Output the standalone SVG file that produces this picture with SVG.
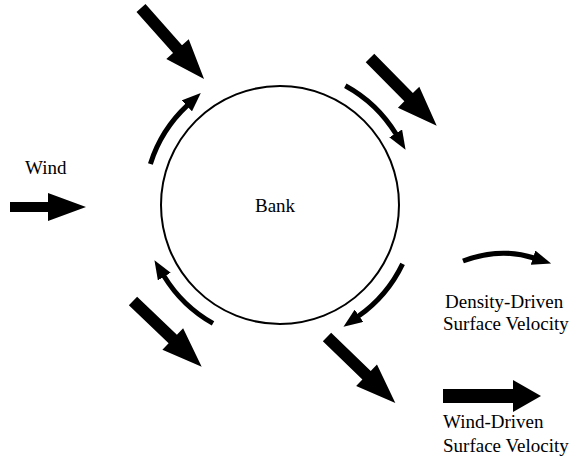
<svg xmlns="http://www.w3.org/2000/svg" width="578" height="458" viewBox="0 0 578 458">
<style>
  .lbl { font-family: "Liberation Serif", "Times New Roman", serif; font-size: 19px; fill: #000; }
  .bank { fill: none; stroke: #000; stroke-width: 2; }
  .dens { fill: none; stroke: #000; stroke-width: 5; stroke-linecap: butt; marker-end: url(#dhead); }
  .wind { fill: #000; stroke: none; }
</style>
<defs>
  <marker id="dhead" markerUnits="userSpaceOnUse" markerWidth="19" markerHeight="15" viewBox="0 0 19 15" refX="1" refY="7.5" orient="auto">
    <path d="M0,0 L19,7.5 L0,15 z" fill="#000"/>
  </marker>
  <path id="warrow" d="M0,-6 L55,-6 L55,-15 L95,0 L55,15 L55,6 L0,6 z"/>
</defs>
<rect width="578" height="458" fill="#fff"/>
<g id="bank">
  <circle class="bank" cx="280" cy="205" r="119"/>
  <text class="lbl" x="255" y="212">Bank</text>
</g>
<g id="wind-label">
  <text class="lbl" x="25" y="174">Wind</text>
</g>
<g id="legend-density">
  <text class="lbl" x="445" y="308">Density-Driven</text>
  <text class="lbl" x="443" y="330">Surface Velocity</text>
</g>
<g id="legend-wind">
  <text class="lbl" x="443" y="428">Wind-Driven</text>
  <text class="lbl" x="443" y="452">Surface Velocity</text>
</g>
<g id="connectors">
  <!-- wind input arrow -->
  <path class="wind" d="M10,202 L48,202 L48,193 L86,207 L48,221 L48,212 L10,212 z"/>
  <!-- wind-driven surface velocity arrows -->
  <use href="#warrow" class="wind" transform="translate(141,8) rotate(48.4)"/>
  <use href="#warrow" class="wind" transform="translate(370,58) rotate(45.4)"/>
  <use href="#warrow" class="wind" transform="translate(133,301) rotate(43.7)"/>
  <use href="#warrow" class="wind" transform="translate(327,337) rotate(44)"/>
  <!-- density-driven surface velocity arcs -->
  <path class="dens" d="M150.4,163.9 A136,136 0 0 1 187.6,105.2"/>
  <path class="dens" d="M345.3,85.7 A136,136 0 0 1 396.2,134.3"/>
  <path class="dens" d="M402.6,263.8 A136,136 0 0 1 358.2,316.3"/>
  <path class="dens" d="M213.0,323.4 A136,136 0 0 1 163.8,275.7"/>
  <!-- legend arrows -->
  <path class="dens" d="M463,261 Q500,247 534,258"/>
  <path class="wind" d="M443,389 L513,389 L513,380 L541,396 L513,412 L513,403 L443,403 z"/>
</g>
</svg>
